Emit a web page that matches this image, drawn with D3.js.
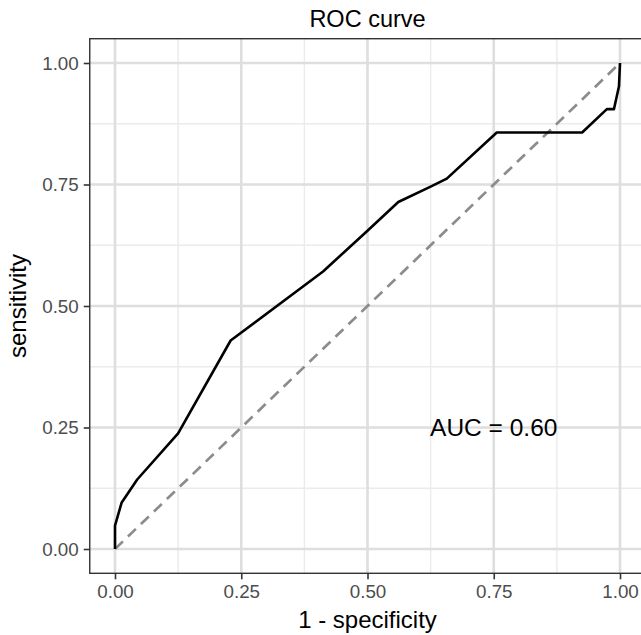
<!DOCTYPE html>
<html lang="en">
<head>
<meta charset="UTF-8">
<title>ROC curve</title>
<script src="https://cdn.jsdelivr.net/npm/d3@7"></script>
<style>
    body { margin: 0; background: #fff; }
    svg { display: block; font-family: "Liberation Sans", Arial, sans-serif; }
</style>
</head>
<body>
<svg id="chart" width="641" height="635"></svg>
<script>
// ROC curve points
const fpr = [0, 0, 0.013, 0.044, 0.125, 0.229, 0.412, 0.5, 0.561, 0.624, 0.657, 0.756, 0.925, 0.974, 0.988, 0.998, 1.0];
const tpr = [0, 0.048, 0.095, 0.143, 0.238, 0.429, 0.571, 0.655, 0.714, 0.745, 0.762, 0.857, 0.857, 0.905, 0.905, 0.952, 1.0];
const majorTicks = [0, 0.25, 0.5, 0.75, 1];
const minorTicks = [0.125, 0.375, 0.625, 0.875];
const aucLabel = "AUC = 0.60";

const svg = d3.select('#chart');

// panel spans the data with ggplot's 5% expansion
const x = d3.scaleLinear().domain([-0.05, 1.05]).range([89.75, 645.25]);
const y = d3.scaleLinear().domain([-0.05, 1.05]).range([573.3, 38.7]);

const panel = svg.append('g');

// grid
panel.selectAll('.minor-x').data(minorTicks).enter().append('line')
    .attr('x1', d => x(d)).attr('x2', d => x(d))
    .attr('y1', y.range()[0]).attr('y2', y.range()[1])
    .attr('stroke', '#ebebeb').attr('stroke-width', 1.4);
panel.selectAll('.minor-y').data(minorTicks).enter().append('line')
    .attr('y1', d => y(d)).attr('y2', d => y(d))
    .attr('x1', x.range()[0]).attr('x2', x.range()[1])
    .attr('stroke', '#ebebeb').attr('stroke-width', 1.4);
panel.selectAll('.major-x').data(majorTicks).enter().append('line')
    .attr('x1', d => x(d)).attr('x2', d => x(d))
    .attr('y1', y.range()[0]).attr('y2', y.range()[1])
    .attr('stroke', '#dedede').attr('stroke-width', 2.6);
panel.selectAll('.major-y').data(majorTicks).enter().append('line')
    .attr('y1', d => y(d)).attr('y2', d => y(d))
    .attr('x1', x.range()[0]).attr('x2', x.range()[1])
    .attr('stroke', '#dedede').attr('stroke-width', 2.6);

// diagonal reference
panel.append('line')
    .attr('x1', x(0)).attr('y1', y(0))
    .attr('x2', x(1)).attr('y2', y(1))
    .attr('stroke', '#8c8c8c').attr('stroke-width', 2.7)
    .attr('stroke-dasharray', '11,7');

// ROC curve
const pts = fpr.map((f, i) => [f, tpr[i]]);
panel.append('path')
    .datum(pts)
    .attr('fill', 'none')
    .attr('stroke', '#000')
    .attr('stroke-width', 2.6)
    .attr('stroke-linejoin', 'round')
    .attr('d', d3.line().x(d => x(d[0])).y(d => y(d[1])));

panel.append('text')
    .attr('x', x(0.75)).attr('y', y(0.25))
    .attr('dy', '0.36em')
    .attr('text-anchor', 'middle')
    .attr('font-size', 24.5)
    .attr('fill', '#000')
    .text(aucLabel);

// panel border
svg.append('rect')
    .attr('x', x.range()[0]).attr('y', y.range()[1])
    .attr('width', x.range()[1] - x.range()[0])
    .attr('height', y.range()[0] - y.range()[1])
    .attr('fill', 'none').attr('stroke', '#333').attr('stroke-width', 1.4);

// axes
const fmt = d3.format('.2f');
const xAxis = svg.append('g')
    .attr('transform', `translate(0,${y.range()[0]})`)
    .call(d3.axisBottom(x).tickValues(majorTicks).tickFormat(fmt).tickSize(6).tickPadding(5));
const yAxis = svg.append('g')
    .attr('transform', `translate(${x.range()[0]},0)`)
    .call(d3.axisLeft(y).tickValues(majorTicks).tickFormat(fmt).tickSize(6).tickPadding(5));

[xAxis, yAxis].forEach(g => {
    g.select('.domain').remove();
    g.selectAll('.tick line').attr('stroke', '#333').attr('stroke-width', 1.6);
    g.selectAll('.tick text')
        .attr('fill', '#4d4d4d')
        .attr('font-size', 18.8)
        .attr('font-family', '"Liberation Sans", Arial, sans-serif');
});

// titles
svg.append('text')
    .attr('x', 367.5).attr('y', 27)
    .attr('text-anchor', 'middle')
    .attr('font-size', 23.5)
    .text('ROC curve');

svg.append('text')
    .attr('x', 367.5).attr('y', 628)
    .attr('text-anchor', 'middle')
    .attr('font-size', 24)
    .text('1 - specificity');

svg.append('text')
    .attr('transform', `translate(26,${y(0.5)}) rotate(-90)`)
    .attr('text-anchor', 'middle')
    .attr('font-size', 24)
    .text('sensitivity');
</script>
</body>
</html>
